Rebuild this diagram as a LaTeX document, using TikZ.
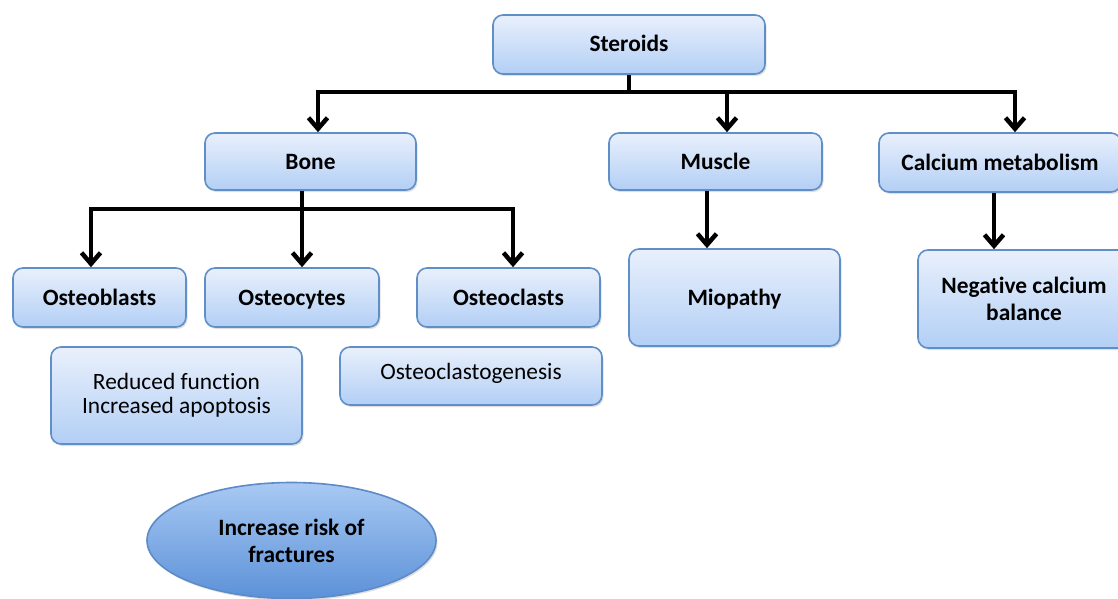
\documentclass[tikz,border=0pt]{standalone}
\usepackage{fontspec}
\setmainfont[RawFeature=-liga]{Carlito}
\usetikzlibrary{arrows.meta,shapes.geometric,shadows}
\definecolor{boxtop}{RGB}{233,240,252}
\definecolor{boxbot}{RGB}{178,207,245}
\definecolor{boxline}{RGB}{96,143,200}
\definecolor{elltop}{RGB}{168,201,243}
\definecolor{ellbot}{RGB}{92,145,216}
\definecolor{ellline}{RGB}{92,139,200}
\tikzset{
  box/.style={draw=boxline, line width=1.6pt, rounded corners=10pt,
    top color=boxtop, bottom color=boxbot, inner sep=0pt, align=center,
    text height=15pt, text depth=0pt,
    drop shadow={shadow xshift=1.5pt, shadow yshift=-2pt, opacity=0.25},
    font=\fontsize{23.4}{27}\selectfont\bfseries},
  plainbox/.style={box, font=\fontsize{23.4}{24}\selectfont},
  ellnode/.style={ellipse, draw=ellline, line width=1.6pt, top color=elltop, bottom color=ellbot,
    inner sep=0pt, align=center, text height=43pt, text depth=0pt,
    drop shadow={shadow xshift=1.5pt, shadow yshift=-2pt, opacity=0.25},
    font=\fontsize{23.4}{27}\selectfont\bfseries},
  conn/.style={line width=4.5pt},
  arr/.style={line width=4.5pt, -{Straight Barb[length=11pt,width=19pt]}}
}
\begin{document}
\begin{tikzpicture}[x=1pt,y=-1pt]
\useasboundingbox (0,0) rectangle (1118,599);
% nodes
\node[box, minimum width=272pt, minimum height=59pt] (steroids) at (629,44.5) {Steroids};
\node[box, minimum width=211pt, minimum height=57pt] (bone) at (310.5,161.5) {Bone};
\node[box, minimum width=213pt, minimum height=57pt] (muscle) at (715.5,161.5) {Muscle};
\node[box, minimum width=242pt, minimum height=59pt] (calcium) at (1000,162.5) {Calcium metabolism};
\node[box, minimum width=173pt, minimum height=59pt] (oblasts) at (99.5,297.5) {Osteoblasts};
\node[box, minimum width=174pt, minimum height=59pt] (ocytes) at (292,297.5) {Osteocytes};
\node[box, minimum width=183pt, minimum height=59pt] (oclasts) at (508.5,297.5) {Osteoclasts};
\node[box, minimum width=211pt, minimum height=97pt] (miopathy) at (734.5,297.5) {Miopathy};
\node[box, minimum width=212pt, minimum height=98pt, text height=42pt, text depth=0pt] (negcal) at (1024,299) {Negative calcium\\balance};
\node[plainbox, minimum width=251pt, minimum height=97pt, text height=37pt, text depth=2pt] (reduced) at (176.5,395.5) {Reduced function\\Increased apoptosis};
\node[plainbox, minimum width=262pt, minimum height=58pt, text depth=8pt] (ogenesis) at (471,376) {Osteoclastogenesis};
\node[ellnode, minimum width=289pt, minimum height=116pt] (risk) at (291.5,540.5) {Increase risk of\\fractures};
% connectors from Steroids
\coordinate (s1) at (318,92);
\coordinate (s2) at (727,92);
\coordinate (s3) at (1015,92);
\draw[conn] (steroids.south) -- (steroids.south |- s1);
\draw[conn, line cap=rect] (s1) -- (s3);
\draw[arr] (s1) -- (s1 |- bone.north);
\draw[arr] (s2) -- (s2 |- muscle.north);
\draw[arr] (s3) -- (s3 |- calcium.north);
% connectors from Bone
\coordinate (b0) at (302,209);
\coordinate (b1) at (91,209);
\coordinate (b3) at (513,209);
\draw[conn] (b0 |- bone.south) -- (b0);
\draw[conn, line cap=rect] (b1) -- (b3);
\draw[arr] (b1) -- (b1 |- oblasts.north);
\draw[arr] (b0) -- (b0 |- ocytes.north);
\draw[arr] (b3) -- (b3 |- oclasts.north);
% Muscle and Calcium
\coordinate (m0) at (707,0);
\coordinate (c0) at (994,0);
\draw[arr] (m0 |- muscle.south) -- (m0 |- miopathy.north);
\draw[arr] (c0 |- calcium.south) -- (c0 |- negcal.north);
\end{tikzpicture}
\end{document}
